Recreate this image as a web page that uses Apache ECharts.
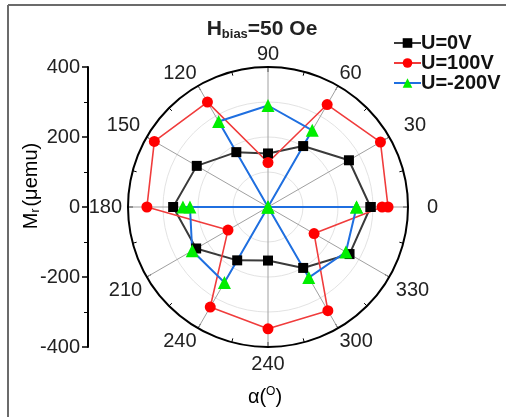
<!DOCTYPE html>
<html>
<head>
<meta charset="utf-8">
<script src="https://cdn.jsdelivr.net/npm/echarts@6/dist/echarts.min.js"></script>
<style>html,body{margin:0;padding:0;background:#fff}#c{width:506px;height:417px}</style>
</head>
<body>
<div id="c"></div>
<script>
// ---- data ----
const angleLabels = ['0','30','60','90','120','150','180','210','240','240','300','330'];
const yTicks = [-400, -200, 0, 200, 400];
const seriesNames = ['U=0V', 'U=100V', 'U=-200V'];
const anglesU0 = [0,30,60,90,120,150,180,210,240,270,300,330,360];
const valuesU0 = [293,267,201,153,181,235,271,237,176,153,201,269,293];
const anglesU100 = [0,30,60,90,120,150,180,210,240,270,300,330,360];
const valuesU100 = [343,371,338,127,346,375,346,132,330,348,342,152,326];
const anglesU200 = [0,30,60,90,120,150,180,180,210,240,270,300,330,360];
const valuesU200 = [253,0,253,290,282,0,243,223,250,249,0,233,257,253];

const FONT = "'Liberation Sans', Arial, sans-serif";
const chart = echarts.init(document.getElementById('c'), null, {renderer: 'canvas'});

function pairs(a, v) { return v.map((r, i) => [r, a[i]]); }

// per-label nudges (padding: top, right, bottom, left)
const labelPads = [[0,0,0,16],[0,0,0,12],[0,0,0,0],[0,0,0,0],[0,0,0,0],[0,4,0,0],
                   [0,3,0,0],[2,2,0,0],[1,0,0,0],[4,0,0,0],[1,0,0,0],[2,0,0,4]];
const labelRich = {};
labelPads.forEach((p, i) => {
  labelRich['p' + i] = {fontSize: 20, color: '#222', fontFamily: FONT, padding: p};
});

const option = {
  backgroundColor: '#fff',
  animation: false,
  textStyle: {fontFamily: FONT},
  title: {
    text: '{h|H}{s|bias}{h|=50 Oe}',
    left: 257, top: 13, textAlign: 'center',
    textStyle: {
      rich: {
        h: {fontSize: 21, fontWeight: 'bold', color: '#222', fontFamily: FONT},
        s: {fontSize: 13, fontWeight: 'bold', color: '#222', fontFamily: FONT, padding: [10, 0, 0, 0]}
      }
    }
  },
  legend: {
    orient: 'vertical', left: 388, top: 28,
    itemWidth: 27, itemHeight: 12, itemGap: 0,
    data: seriesNames,
    textStyle: {fontSize: 20, fontWeight: 'bold', color: '#111', fontFamily: FONT, padding: [0, 0, 0, -5]}
  },
  polar: {center: [268, 207], radius: 140},
  angleAxis: {
    type: 'value', min: 0, max: 360, interval: 30, startAngle: 0, clockwise: false,
    axisLine: {show: true, lineStyle: {color: '#000', width: 2}},
    axisTick: {show: true, inside: true, length: 5, lineStyle: {color: '#000', width: 1}},
    minorTick: {show: true, splitNumber: 2, length: 4, lineStyle: {color: '#000', width: 1}},
    splitLine: {show: true, lineStyle: {color: '#a0a0a0', width: 1}},
    axisLabel: {
      show: true, margin: 3, fontSize: 20, color: '#222', fontFamily: FONT,
      formatter: function (v) {
        const i = Math.round(v / 30);
        if (i >= 12) return '';
        return '{p' + i + '|' + angleLabels[i] + '}';
      },
      rich: labelRich
    }
  },
  radiusAxis: {
    type: 'value', min: 0, max: 400, interval: 100,
    axisLine: {show: false}, axisTick: {show: false}, axisLabel: {show: false},
    splitLine: {show: true, lineStyle: {color: '#e3e3e3', width: 1}}
  },
  grid: {left: 88, top: 67, width: 10, height: 280},
  xAxis: {type: 'value', show: false, min: 0, max: 1},
  yAxis: {
    type: 'value', min: yTicks[0], max: yTicks[yTicks.length - 1], interval: 200,
    axisLine: {show: true, lineStyle: {color: '#000', width: 2}},
    axisTick: {show: true, inside: false, length: 6, lineStyle: {color: '#000', width: 1.5}},
    minorTick: {show: true, splitNumber: 2, length: 4, lineStyle: {color: '#000', width: 1}},
    splitLine: {show: false},
    axisLabel: {margin: 8, fontSize: 20, color: '#222', fontFamily: FONT}
  },
  graphic: [
    {type: 'line', shape: {x1: 8, y1: 5, x2: 506, y2: 5}, style: {stroke: '#6b6b6b', lineWidth: 2}},
    {type: 'line', shape: {x1: 8, y1: 5, x2: 8, y2: 417}, style: {stroke: '#6b6b6b', lineWidth: 2}},
    {type: 'text', x: 31, y: 186, rotation: Math.PI / 2,
      style: {text: '{a|M}{s|r}{a|(μemu)}', align: 'center', verticalAlign: 'middle',
        rich: {a: {fontSize: 20, color: '#222', fontFamily: FONT},
               s: {fontSize: 12, color: '#222', fontFamily: FONT, padding: [9, 2, 0, 0]}}}},
    {type: 'text', x: 265, y: 397,
      style: {text: '{a|α(}{s|O}{a|)}', align: 'center', verticalAlign: 'middle',
        rich: {a: {fontSize: 20, color: '#222', fontFamily: FONT},
               s: {fontSize: 12, color: '#222', fontFamily: FONT, padding: [0, 0, 11, 0]}}}}
  ],
  series: [
    {name: seriesNames[0], type: 'line', coordinateSystem: 'polar', data: pairs(anglesU0, valuesU0),
      symbol: 'rect', symbolSize: 10, itemStyle: {color: '#000'},
      lineStyle: {color: '#3a3a3a', width: 2}},
    {name: seriesNames[1], type: 'line', coordinateSystem: 'polar', data: pairs(anglesU100, valuesU100),
      symbol: 'circle', symbolSize: 11, itemStyle: {color: '#ff0000'},
      lineStyle: {color: '#f03c3c', width: 1.6}},
    {name: seriesNames[2], type: 'line', coordinateSystem: 'polar', data: pairs(anglesU200, valuesU200),
      symbol: 'triangle', symbolSize: 13, itemStyle: {color: '#00ee00'},
      lineStyle: {color: '#1f6fe0', width: 2}}
  ]
};
chart.setOption(option);
</script>
</body>
</html>
